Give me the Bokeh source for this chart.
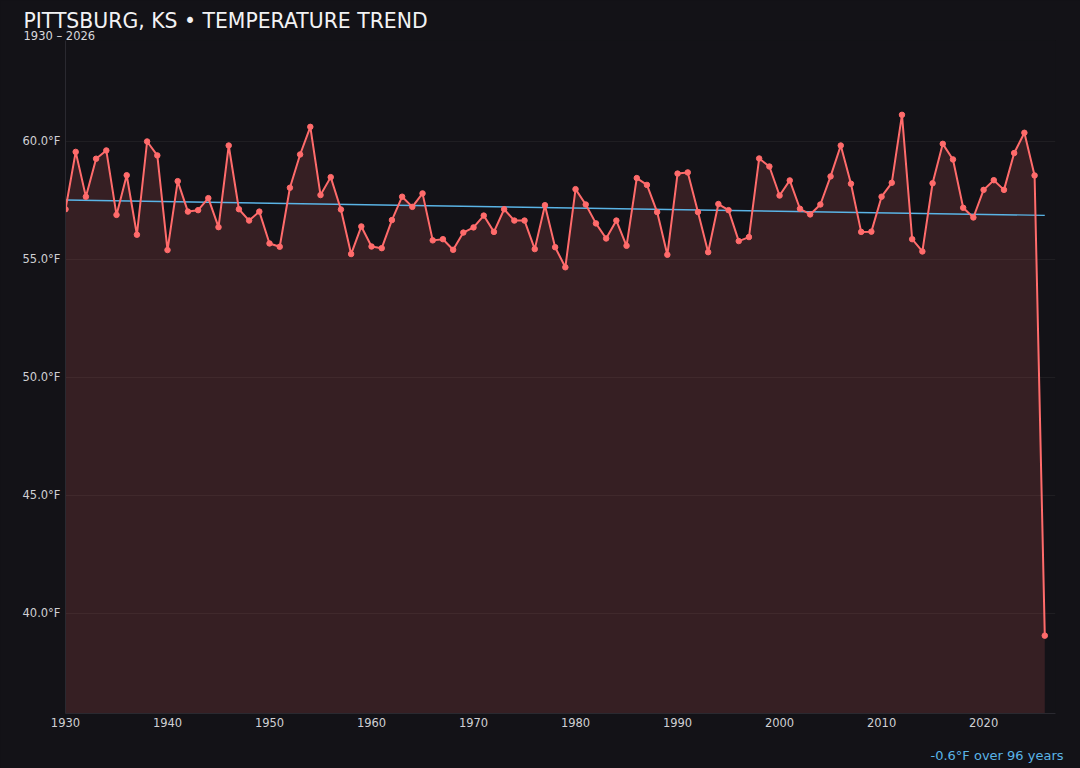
import numpy as np
from bokeh.plotting import figure
from bokeh.models import (ColumnDataSource, Range1d, FixedTicker, PrintfTickFormatter,
                          Title)
from bokeh.embed import file_html
from bokeh.resources import INLINE

# ---- data ----
years = list(range(1930, 2027))
temps = [
    57.13, 59.56, 57.66, 59.27, 59.62, 56.89, 58.57, 56.05, 60.00, 59.41,   # 1930s
    55.40, 58.32, 57.03, 57.09, 57.60, 56.37, 59.83, 57.13, 56.65, 57.03,   # 1940s
    55.68, 55.54, 58.04, 59.45, 60.62, 57.73, 58.49, 57.12, 55.23, 56.40,   # 1950s
    55.55, 55.48, 56.67, 57.66, 57.23, 57.80, 55.81, 55.86, 55.41, 56.14,   # 1960s
    56.36, 56.86, 56.17, 57.13, 56.65, 56.65, 55.44, 57.30, 55.52, 54.67,   # 1970s
    57.98, 57.33, 56.53, 55.89, 56.65, 55.58, 58.45, 58.16, 57.01, 55.20,   # 1980s
    58.64, 58.69, 57.01, 55.31, 57.35, 57.09, 55.78, 55.95, 59.28, 58.94,   # 1990s
    57.71, 58.35, 57.15, 56.91, 57.33, 58.52, 59.83, 58.21, 56.17, 56.18,   # 2000s
    57.66, 58.25, 61.13, 55.86, 55.34, 58.23, 59.90, 59.24, 57.19, 56.78,   # 2010s
    57.95, 58.36, 57.95, 59.51, 60.37, 58.56, 39.06,                        # 2020s
]
y_ticks = [40, 45, 50, 55, 60]
x_ticks = [1930, 1940, 1950, 1960, 1970, 1980, 1990, 2000, 2010, 2020]
title_text = "PITTSBURG, KS \u2022 TEMPERATURE TREND"
subtitle_text = "1930 \u2013 2026"
trend_text = "-0.6\u00b0F over 96 years"

# linear trend over all years
fit_x = np.array(years, dtype=float)
fit_y = np.array(temps, dtype=float)
slope, intercept = np.polyfit(fit_x, fit_y, 1)
trend_x = [years[0], years[-1]]
trend_y = [slope * x + intercept for x in trend_x]

# ---- style ----
BG = "#131217"
LINE = "#ff6b6b"
TREND = "#5ab4e6"
Y0, Y1 = 35.76, 64.28

src = ColumnDataSource(dict(x=years, y=temps, base=[Y0] * len(years)))

p = figure(width=1080, height=768, output_backend="svg", toolbar_location=None,
           title=None,
           x_range=Range1d(1930, 2027.05), y_range=Range1d(Y0, Y1),
           min_border_left=65, min_border_right=25, min_border_top=40,
           min_border_bottom=55)
p.background_fill_color = BG
p.border_fill_color = BG
p.outline_line_color = None

p.varea(x="x", y1="base", y2="y", source=src, fill_color=LINE, fill_alpha=0.15)
p.line(trend_x, trend_y, line_color=TREND, line_width=1.4)
p.line(x="x", y="y", source=src, line_color=LINE, line_width=2)
p.scatter(x="x", y="y", source=src, size=5.5, fill_color=LINE, line_color=LINE)

# axes
for ax in (p.xaxis[0], p.yaxis[0]):
    ax.axis_line_color = "#2a2930"
    ax.major_tick_line_color = None
    ax.minor_tick_line_color = None
    ax.major_tick_out = 0
    ax.major_tick_in = 0
    ax.minor_tick_out = 0
    ax.minor_tick_in = 0
    ax.major_label_text_color = "#d0d0d4"
    ax.major_label_text_font = "DejaVu Sans"
    ax.major_label_text_font_size = "11.5px"
p.xaxis.major_label_standoff = 4
p.yaxis.major_label_standoff = 5
# spacer between tick labels and the trend note
p.xaxis.axis_label = " "
p.xaxis.axis_label_text_font_size = "1px"
p.xaxis.axis_label_standoff = 12
p.xaxis.ticker = FixedTicker(ticks=x_ticks)
p.yaxis.ticker = FixedTicker(ticks=y_ticks)
p.yaxis.formatter = PrintfTickFormatter(format="%.1f\u00b0F")

p.xgrid.grid_line_color = None
p.ygrid.grid_line_color = "#ffffff"
p.ygrid.grid_line_alpha = 0.05

# titles
p.add_layout(Title(text=subtitle_text, align="left", offset=-42, standoff=-8,
                   vertical_align="top",
                   text_font="DejaVu Sans", text_font_size="11.5px",
                   text_font_style="normal", text_color="#d8d8dc"), "above")
p.add_layout(Title(text=title_text, align="left", offset=-42, standoff=0,
                   text_font="DejaVu Sans", text_font_size="20.4px",
                   text_font_style="normal", text_color="#f2f2f4"), "above")
p.add_layout(Title(text=trend_text, align="right", offset=-8, standoff=0,
                   text_font="DejaVu Sans", text_font_size="13px",
                   text_font_style="normal", text_color=TREND), "below")

html = file_html(p, INLINE)
html = html.replace("<head>", "<head><style>html,body{background:%s;}</style>" % BG, 1)
open("out.html", "w").write(html)
